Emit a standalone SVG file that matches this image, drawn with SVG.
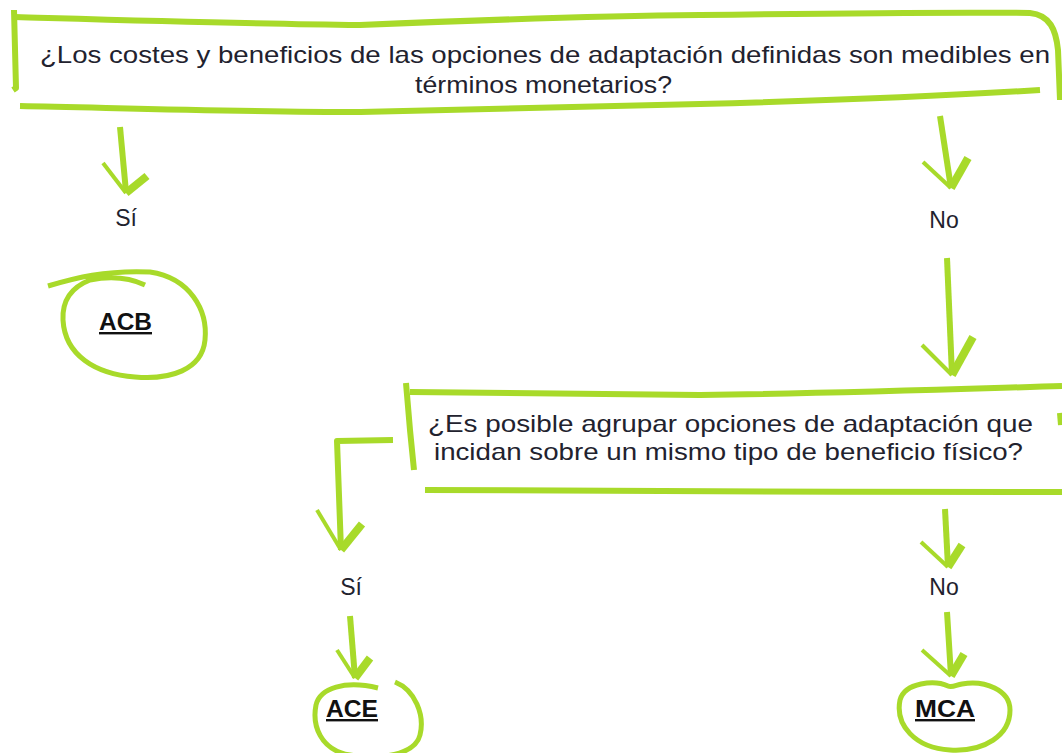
<svg xmlns="http://www.w3.org/2000/svg" width="1062" height="753" viewBox="0 0 1062 753">
<style>
.g{fill:none;stroke:#a8da2a;stroke-linecap:butt;stroke-linejoin:round}
.b{stroke-width:6}
.t{stroke-width:5}
.hl{stroke-width:4}
.hr{stroke-width:8}
.q{font-family:"Liberation Sans",Arial,sans-serif;font-size:24px;fill:#22222e}
.lab{font-family:"Liberation Sans",Arial,sans-serif;font-size:23px;fill:#22222e;text-anchor:middle}
.res{font-family:"Liberation Sans",Arial,sans-serif;font-size:24px;font-weight:bold;fill:#111111;text-decoration:underline}
</style>
<rect width="1062" height="753" fill="#ffffff"/>
<g id="q1">
<path class="g b" d="M14,10 L16,88 L13,90"/>
<path class="g b" d="M15,17 C120,20 250,24 360,25 C480,20 600,16 700,15 C850,13 960,12 1030,13 C1050,15 1056,30 1058,50 L1060,100"/>
<path class="g b" d="M20,106 C120,108 250,112 360,112 C480,110 600,106 700,104 C850,100 960,95 1040,90"/>
<text class="q" x="40" y="63" textLength="1010" lengthAdjust="spacingAndGlyphs">¿Los costes y beneficios de las opciones de adaptación definidas son medibles en</text>
<text class="q" x="415" y="93" textLength="257" lengthAdjust="spacingAndGlyphs">términos monetarios?</text>
</g>
<g id="q2">
<path class="g b" d="M406,383 L410,430 L414,470"/>
<path class="g b" d="M410,392 C500,393 600,394 700,395 C850,393 960,389 1062,386"/>
<path class="g b" d="M425,490 C600,491 850,492 1062,492"/>
<path class="g b" d="M1060,413 L1061,425"/>
<text class="q" x="428" y="432" font-size="23" textLength="605" lengthAdjust="spacingAndGlyphs">¿Es posible agrupar opciones de adaptación que</text>
<text class="q" x="434" y="460" font-size="23" textLength="589" lengthAdjust="spacingAndGlyphs">incidan sobre un mismo tipo de beneficio físico?</text>
</g>
<g id="acb">
<path class="g t" d="M48,286 C75,278 105,270 150,272 C190,278 208,310 205,340 C202,370 170,380 135,377 C95,374 65,355 63,320 C62,300 72,287 90,280 C110,276 130,278 145,285"/>
<text class="res" x="99" y="330" textLength="53" lengthAdjust="spacingAndGlyphs">ACB</text>
</g>
<g id="ace">
<path class="g t" d="M395,682 C415,690 425,715 420,735 C415,755 380,760 350,755 C320,750 312,725 316,705 C320,688 345,680 378,688"/>
<text class="res" x="326" y="717" textLength="52" lengthAdjust="spacingAndGlyphs">ACE</text>
</g>
<g id="mca">
<path class="g t" d="M948,686 C935,680 905,682 900,700 C895,725 915,748 950,750 C985,752 1010,735 1010,710 C1010,690 985,680 962,684 C956,685 952,688 948,686"/>
<text class="res" x="915" y="717" textLength="60" lengthAdjust="spacingAndGlyphs">MCA</text>
</g>
<g id="labels">
<text class="lab" x="126" y="226">Sí</text>
<text class="lab" x="944" y="228">No</text>
<text class="lab" x="351" y="595">Sí</text>
<text class="lab" x="944" y="595">No</text>
</g>
<g id="connectors">
<path class="g b" d="M120,127 L126,192"/>
<path class="g hl" d="M103,163 L126,193"/>
<path class="g hr" d="M147,176 L126,193"/>
<path class="g b" d="M940,116 L951,188"/>
<path class="g hl" d="M923,162 L951,188"/>
<path class="g hr" d="M968,158 L951,188"/>
<path class="g b" d="M947,258 L952,375"/>
<path class="g hl" d="M922,345 L952,375"/>
<path class="g hr" d="M973,337 L952,375"/>
<path class="g b" d="M393,440 L337,441 L341,550"/>
<path class="g hl" d="M317,510 L341,550"/>
<path class="g hr" d="M362,524 L341,550"/>
<path class="g b" d="M945,509 L948,567"/>
<path class="g hl" d="M921,542 L948,567"/>
<path class="g hr" d="M962,545 L948,567"/>
<path class="g b" d="M350,616 L355,678"/>
<path class="g hl" d="M337,650 L355,678"/>
<path class="g hr" d="M370,658 L355,678"/>
<path class="g b" d="M947,612 L951,676"/>
<path class="g hl" d="M922,650 L951,676"/>
<path class="g hr" d="M964,654 L951,676"/>
</g>
</svg>
